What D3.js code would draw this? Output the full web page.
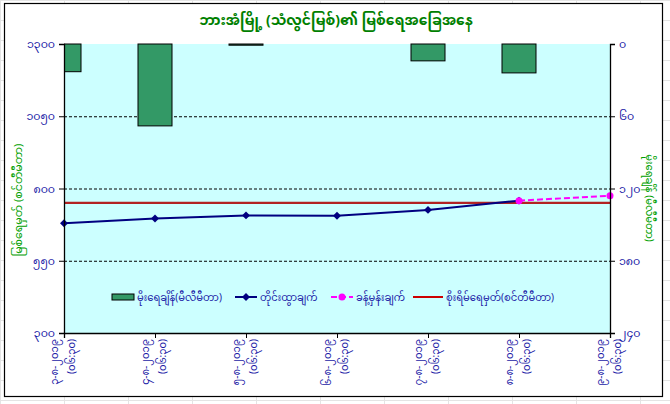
<!DOCTYPE html>
<html>
<head>
<meta charset="utf-8">
<script src="https://cdn.jsdelivr.net/npm/d3@7"></script>
<style>
  body { margin: 0; background: #fff; }
  text { font-family: "Noto Sans Myanmar", "Myanmar Text", "Padauk", "Noto Sans", sans-serif; }
</style>
</head>
<body>
<div id="chart"></div>
<script>
// Chart data
var dates = ["၃-၈-၂၀၁၉", "၄-၈-၂၀၁၉", "၅-၈-၂၀၁၉", "၆-၈-၂၀၁၉", "၇-၈-၂၀၁၉", "၈-၈-၂၀၁၉", "၉-၈-၂၀၁၉"];
var obsTime = "(၀၆:၃၀)";
var rainfall = [23, 68, 1, 0, 14, 24, 0];          // mm, right axis (reversed)
var measured = [680, 696, 707, 706, 726, 758, null]; // cm, left axis
var forecast = [null, null, null, null, null, 758, 775];
var dangerLevel = 750;
var leftTicks = [300, 550, 800, 1050, 1300];
var rightTicks = [0, 60, 120, 180, 240];
var legendLabels = ["မိုးရေချိန်(မီလီမီတာ)", "တိုင်းထွာချက်", "ခန့်မှန်းချက်", "စိုးရိမ်ရေမှတ်(စင်တီမီတာ)"];

var svgWidth = 670;
var svgHeight = 404;

// plot area edges
var plot = { left: 64, right: 610, top: 44, bottom: 333 };

// western digits -> Myanmar digits
var myDigits = "၀၁၂၃၄၅၆၇၈၉";
function toMy(n) {
  return String(n).replace(/[0-9]/g, c => myDigits[+c]);
}

var svg = d3.select("#chart")
  .append("svg")
  .attr("width", svgWidth)
  .attr("height", svgHeight);

// spreadsheet cell lines behind the chart
var cells = svg.append("g");
d3.range(0, svgWidth, 64).forEach(x => {
  cells.append("line").attr("x1", x + 0.5).attr("x2", x + 0.5).attr("y1", 0).attr("y2", svgHeight)
    .attr("stroke", "#e4e4e4");
});
d3.range(0, svgHeight, 20).forEach(y => {
  cells.append("line").attr("x1", 0).attr("x2", svgWidth).attr("y1", y + 0.5).attr("y2", y + 0.5)
    .attr("stroke", "#e4e4e4");
});

// chart area
svg.append("rect")
  .attr("x", 4.5)
  .attr("y", 3.5)
  .attr("width", 658)
  .attr("height", 393)
  .attr("fill", "#fff")
  .attr("stroke", "#000")
  .attr("stroke-width", 1.2);

// plot background
svg.append("rect")
  .attr("x", plot.left)
  .attr("y", plot.top)
  .attr("width", plot.right - plot.left)
  .attr("height", plot.bottom - plot.top)
  .attr("fill", "#ccffff");

svg.append("clipPath")
  .attr("id", "plotClip")
  .append("rect")
  .attr("x", plot.left)
  .attr("y", plot.top - 2)
  .attr("width", plot.right - plot.left)
  .attr("height", plot.bottom - plot.top + 2);

// scales
var xScale = d3.scalePoint()
  .domain(dates)
  .range([plot.left, plot.right]);

var yLeft = d3.scaleLinear()
  .domain([300, 1300])
  .range([plot.bottom, plot.top]);

var yRight = d3.scaleLinear()
  .domain([0, 240])
  .range([plot.top, plot.bottom]);

// dashed gridlines
svg.append("g")
  .selectAll("line")
  .data([550, 800, 1050])
  .join("line")
  .attr("x1", plot.left)
  .attr("x2", plot.right)
  .attr("y1", d => yLeft(d) + 0.5)
  .attr("y2", d => yLeft(d) + 0.5)
  .attr("stroke", "#000")
  .attr("stroke-dasharray", "3,2");

// rainfall bars hanging from the top
var barWidth = 34;
svg.append("g")
  .attr("clip-path", "url(#plotClip)")
  .selectAll("rect")
  .data(rainfall.map((v, i) => ({ v: v, d: dates[i] })).filter(o => o.v > 0))
  .join("rect")
  .attr("x", o => xScale(o.d) - barWidth / 2)
  .attr("y", plot.top)
  .attr("width", barWidth)
  .attr("height", o => yRight(o.v) - plot.top)
  .attr("fill", "#339966")
  .attr("stroke", "#000")
  .attr("stroke-width", 1);

// danger level line
svg.append("line")
  .attr("x1", plot.left)
  .attr("x2", plot.right)
  .attr("y1", yLeft(dangerLevel))
  .attr("y2", yLeft(dangerLevel))
  .attr("stroke", "#b22222")
  .attr("stroke-width", 2.2);

// measured water level
var lineLeft = d3.line()
  .defined(d => d.v !== null)
  .x(d => xScale(d.d))
  .y(d => yLeft(d.v));

var measuredData = measured.map((v, i) => ({ v: v, d: dates[i] }));
var forecastData = forecast.map((v, i) => ({ v: v, d: dates[i] }));

svg.append("path")
  .datum(measuredData)
  .attr("d", lineLeft)
  .attr("fill", "none")
  .attr("stroke", "#000080")
  .attr("stroke-width", 2);

svg.append("g")
  .selectAll("path")
  .data(measuredData.filter(d => d.v !== null))
  .join("path")
  .attr("d", d3.symbol(d3.symbolDiamond2, 40))
  .attr("transform", d => `translate(${xScale(d.d)},${yLeft(d.v)})`)
  .attr("fill", "#000080");

// forecast
svg.append("path")
  .datum(forecastData)
  .attr("d", lineLeft)
  .attr("fill", "none")
  .attr("stroke", "#ff00ff")
  .attr("stroke-width", 2)
  .attr("stroke-dasharray", "6,3");

svg.append("g")
  .selectAll("circle")
  .data(forecastData.filter(d => d.v !== null))
  .join("circle")
  .attr("cx", d => xScale(d.d))
  .attr("cy", d => yLeft(d.v))
  .attr("r", 3.5)
  .attr("fill", "#ff00ff");

// axes
var axisColor = "#000";
var leftAxis = d3.axisLeft(yLeft)
  .tickValues(leftTicks)
  .tickSize(5)
  .tickFormat(toMy);
var rightAxis = d3.axisRight(yRight)
  .tickValues(rightTicks)
  .tickSize(5)
  .tickFormat(toMy);
var bottomAxis = d3.axisBottom(xScale)
  .tickSize(5)
  .tickFormat("");

var gLeft = svg.append("g")
  .attr("transform", `translate(${plot.left},0)`)
  .call(leftAxis);
var gRight = svg.append("g")
  .attr("transform", `translate(${plot.right},0)`)
  .call(rightAxis);
var gBottom = svg.append("g")
  .attr("transform", `translate(0,${plot.bottom})`)
  .call(bottomAxis);

[gLeft, gRight, gBottom].forEach(g => {
  g.select(".domain").attr("stroke", axisColor).attr("stroke-width", 1.3);
  g.selectAll(".tick line").attr("stroke", axisColor);
  g.selectAll(".tick text")
    .attr("fill", "#1a1aa6")
    .attr("font-size", "11px");
});
gLeft.selectAll(".tick text").attr("x", -9);
gRight.selectAll(".tick text").attr("x", 9);

// x labels: date + observation time, rotated
var xLabels = svg.append("g");
dates.forEach(d => {
  var g = xLabels.append("g")
    .attr("transform", `translate(${xScale(d)},${plot.bottom + 6}) rotate(-90)`);
  g.append("text")
    .attr("x", 0)
    .attr("y", -6)
    .attr("text-anchor", "end")
    .attr("font-size", "10px")
    .attr("fill", "#1a1aa6")
    .text(d);
  g.append("text")
    .attr("x", 0)
    .attr("y", 11)
    .attr("text-anchor", "end")
    .attr("font-size", "10px")
    .attr("fill", "#1a1aa6")
    .text(obsTime);
});

// title
svg.append("text")
  .attr("x", 336)
  .attr("y", 25)
  .attr("text-anchor", "middle")
  .attr("font-size", "14px")
  .attr("font-weight", "bold")
  .attr("fill", "#008000")
  .text("ဘားအံမြို့ (သံလွင်မြစ်)၏ မြစ်ရေအခြေအနေ");

// axis titles
svg.append("text")
  .attr("transform", "translate(22,200) rotate(-90)")
  .attr("text-anchor", "middle")
  .attr("font-size", "11px")
  .attr("fill", "#00a000")
  .text("မြစ်ရေမှတ် (စင်တီမီတာ)");

svg.append("text")
  .attr("transform", "translate(646,198) rotate(90)")
  .attr("text-anchor", "middle")
  .attr("font-size", "10px")
  .attr("fill", "#00a000")
  .text("မိုးရေချိန် (မီလီမီတာ)");

// legend
var legend = svg.append("g").attr("transform", "translate(0,297)");
var legendX = [112, 235, 331, 413];

legend.append("rect")
  .attr("x", legendX[0])
  .attr("y", -3)
  .attr("width", 22)
  .attr("height", 6)
  .attr("fill", "#339966")
  .attr("stroke", "#000");

legend.append("line")
  .attr("x1", legendX[1]).attr("x2", legendX[1] + 22)
  .attr("stroke", "#000080").attr("stroke-width", 2);
legend.append("path")
  .attr("d", d3.symbol(d3.symbolDiamond2, 40))
  .attr("transform", `translate(${legendX[1] + 11},0)`)
  .attr("fill", "#000080");

legend.append("line")
  .attr("x1", legendX[2]).attr("x2", legendX[2] + 22)
  .attr("stroke", "#ff00ff").attr("stroke-width", 2)
  .attr("stroke-dasharray", "6,3");
legend.append("circle")
  .attr("cx", legendX[2] + 11)
  .attr("r", 3.5)
  .attr("fill", "#ff00ff");

legend.append("line")
  .attr("x1", legendX[3]).attr("x2", legendX[3] + 30)
  .attr("stroke", "#cc0000").attr("stroke-width", 2);

legend.selectAll("text.lbl")
  .data(legendLabels)
  .join("text")
  .attr("class", "lbl")
  .attr("x", (d, i) => legendX[i] + (i === 3 ? 33 : 25))
  .attr("y", 4)
  .attr("font-size", "10px")
  .attr("fill", "#1a1aa6")
  .text(d => d);
</script>
</body>
</html>
